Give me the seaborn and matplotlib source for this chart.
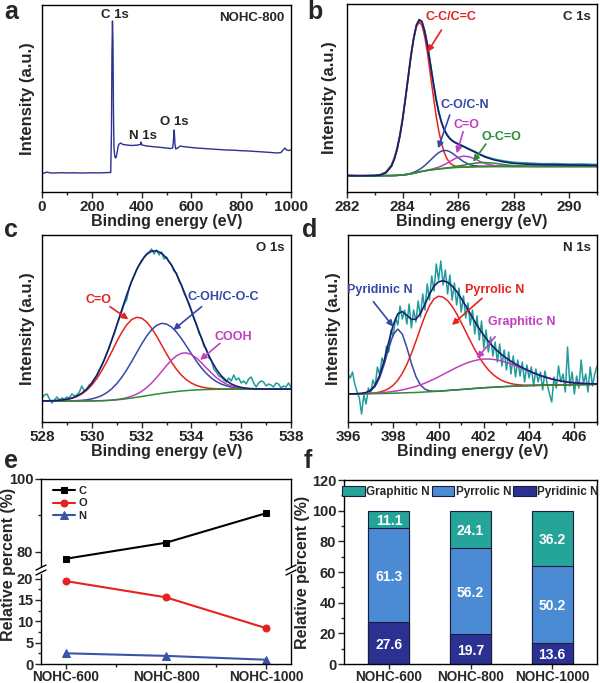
import numpy as np
import seaborn as sns
import matplotlib.pyplot as plt
from matplotlib.ticker import MultipleLocator
from matplotlib.lines import Line2D
from matplotlib.patches import Patch

# ---------------- data ----------------
# (a) survey spectrum of NOHC-800
survey_ev = [0, 10, 20, 30, 50, 80, 100, 130, 160, 200, 230, 260, 276, 279, 281, 283,
             285, 287, 289, 292, 295, 298, 302, 306, 310, 316, 325, 340, 360, 380, 395,
             398, 401, 420, 440, 460, 480, 500, 515, 525, 528, 531, 534, 537, 545, 555,
             565, 580, 600, 620, 650, 680, 710, 740, 770, 800, 830, 860, 890, 920, 945,
             960, 970, 976, 982, 990, 1000]
survey_int = [18.5, 19.0, 20.0, 19.2, 19.0, 19.3, 19.1, 19.2, 19.0, 19.2, 19.1, 19.4, 19.6, 60,
              140, 171, 150, 80, 45, 36, 34, 35, 40, 46, 48, 49, 47.5, 47, 46.5, 46.8, 47.5,
              50, 47, 46, 45.5, 45, 44.5, 44, 43.5, 44, 52, 62, 48, 43, 44, 46, 45.5, 45,
              44.5, 44, 43.5, 43, 42.5, 42, 41.8, 41.3, 41, 40.5, 40, 39.5, 39, 39.5, 42.5,
              44, 42, 41.5, 42]

# (b) C 1s
c1s_ev = [282.0, 282.5, 283.0, 283.2, 283.4, 283.6, 283.7, 283.8, 283.9, 284.0, 284.1,
          284.2, 284.3, 284.4, 284.5, 284.6, 284.7, 284.8, 284.9, 285.0, 285.1, 285.2,
          285.3, 285.4, 285.5, 285.6, 285.7, 285.8, 285.9, 286.0, 286.2, 286.4, 286.6,
          286.8, 287.0, 287.3, 287.6, 288.0, 288.5, 289.0, 289.5, 290.0, 290.5, 291.0]
c1s_raw = [16.8, 16.0, 16.6, 17.4, 20.0, 27.0, 34.0, 43.8, 57.0, 73.5, 93.5, 115.0, 136.5,
           154.0, 167.0, 172.0, 170.0, 160.5, 146.8, 128.8, 110.8, 94.0, 80.5, 70.2, 62.5,
           57.6, 53.8, 51.4, 49.6, 48.3, 45.8, 43.0, 40.5, 37.6, 35.3, 32.8, 31.2, 29.6,
           28.9, 28.2, 28.3, 27.8, 27.9, 27.4]
c1s_fit = [16.3, 16.3, 16.4, 17.0, 19.2, 25.8, 32.5, 42.1, 55.3, 72.1, 92.5, 114.0, 135.7,
           153.7, 166.9, 172.4, 170.4, 160.7, 146.3, 128.2, 110.4, 93.6, 80.0, 69.6, 62.1,
           56.9, 53.3, 50.9, 49.2, 47.9, 45.3, 42.6, 39.9, 37.2, 34.7, 32.1, 30.3, 28.6,
           27.8, 27.4, 27.2, 27.0, 26.8, 26.6]
c1s_cc = [16.3, 16.3, 16.4, 17.0, 19.2, 25.8, 32.5, 42.1, 55.3, 72.0, 92.3, 113.7, 135.2,
          152.8, 165.4, 170.0, 166.6, 155.1, 138.6, 118.0, 97.4, 77.7, 61.5, 48.8, 39.5,
          33.2, 29.2, 27.0, 25.8, 25.3, 25.0, 25.1, 25.3, 25.4, 25.5, 25.6, 25.6, 25.6,
          25.6, 25.6, 25.6, 25.6, 25.6, 25.6]
c1s_co = [16.3, 16.3, 16.3, 16.3, 16.4, 16.4, 16.5, 16.6, 16.8, 17.1, 17.5, 18.0, 18.7,
          19.7, 20.9, 22.4, 24.3, 26.5, 29.0, 31.7, 34.5, 37.1, 39.3, 40.9, 41.5, 41.4,
          40.3, 38.6, 36.5, 34.3, 30.3, 27.5, 26.2, 25.7, 25.6, 25.6, 25.6, 25.6, 25.6,
          25.6, 25.6, 25.6, 25.6, 25.6]
c1s_c_o = [16.3, 16.3, 16.3, 16.3, 16.4, 16.4, 16.5, 16.6, 16.8, 17.0, 17.3, 17.7, 18.2,
           18.8, 19.4, 20.0, 20.7, 21.3, 21.9, 22.5, 23.2, 24.0, 24.9, 26.0, 27.3, 28.8,
           30.4, 32.0, 33.5, 34.7, 35.9, 35.2, 33.1, 30.4, 28.2, 26.4, 25.8, 25.6, 25.6,
           25.6, 25.6, 25.6, 25.6, 25.6]
c1s_oco = [16.3, 16.3, 16.3, 16.3, 16.4, 16.4, 16.5, 16.6, 16.8, 17.0, 17.3, 17.7, 18.2,
           18.8, 19.4, 20.0, 20.6, 21.1, 21.6, 22.0, 22.4, 22.7, 23.1, 23.5, 23.8, 24.2,
           24.5, 24.9, 25.4, 25.9, 26.9, 27.9, 28.8, 29.35, 29.45, 28.8, 27.6, 26.3, 25.7,
           25.6, 25.6, 25.6, 25.6, 25.6]
c1s_bg = [16.3, 16.3, 16.3, 16.3, 16.4, 16.4, 16.5, 16.6, 16.8, 17.0, 17.3, 17.7, 18.2,
          18.8, 19.4, 20.0, 20.6, 21.1, 21.6, 22.0, 22.4, 22.7, 23.0, 23.3, 23.5, 23.8,
          24.0, 24.2, 24.4, 24.6, 24.9, 25.1, 25.3, 25.4, 25.5, 25.6, 25.6, 25.6, 25.6,
          25.6, 25.6, 25.6, 25.6, 25.6]

# (c) O 1s
o1s_ev = np.round(np.linspace(528.0, 538.0, 51), 1)
o1s_fit = [21.06, 21.13, 21.27, 21.5, 21.94, 22.7, 23.9, 25.87, 28.78, 33.02, 38.93, 46.74,
           56.42, 68.25, 81.81, 96.65, 111.9, 126.88, 140.6, 152.3, 161.4, 167.6, 170.8,
           171.2, 168.8, 164.0, 157.0, 147.9, 136.9, 124.4, 111.0, 97.4, 84.0, 71.9, 61.4,
           52.8, 46.15, 41.42, 38.06, 35.9, 34.56, 33.77, 33.35, 33.11, 33.0, 32.9, 32.9,
           32.9, 32.9, 32.9, 32.9]
o1s_co = [21.06, 21.12, 21.25, 21.48, 21.89, 22.6, 23.7, 25.5, 28.1, 31.8, 36.9, 43.4, 51.3,
          60.4, 70.3, 80.3, 89.5, 97.1, 102.4, 104.7, 103.9, 100.1, 93.9, 86.0, 77.1, 68.2,
          59.9, 52.7, 46.8, 42.2, 38.9, 36.6, 35.0, 34.1, 33.5, 33.2, 33.05, 33.0, 32.96,
          32.9, 32.9, 32.9, 32.9, 32.9, 32.9, 32.9, 32.9, 32.9, 32.9, 32.9, 32.9]
o1s_coh = [21.0, 21.0, 21.0, 21.0, 21.05, 21.1, 21.2, 21.37, 21.68, 22.2, 23.1, 24.5, 26.4,
           29.3, 33.2, 38.3, 44.6, 52.1, 60.4, 69.2, 77.9, 85.8, 92.2, 96.6, 98.6, 98.0,
           95.0, 90.0, 83.4, 75.9, 68.2, 60.9, 54.2, 48.6, 44.0, 40.5, 37.9, 36.2, 34.9,
           34.1, 33.58, 33.27, 33.1, 33.0, 32.95, 32.9, 32.9, 32.9, 32.9, 32.9, 32.9]
o1s_cooh = [21.0, 21.0, 21.0, 21.0, 21.0, 21.0, 21.0, 21.0, 21.0, 21.0, 21.1, 21.2, 21.32,
            21.55, 21.91, 22.45, 23.2, 24.28, 25.8, 27.8, 30.6, 34.3, 38.9, 44.4, 50.3, 56.4,
            61.9, 66.2, 68.7, 69.1, 67.5, 64.1, 59.4, 54.2, 49.1, 44.5, 40.8, 38.0, 36.0,
            34.7, 33.9, 33.4, 33.15, 33.0, 32.95, 32.9, 32.9, 32.9, 32.9, 32.9, 32.9]
o1s_bg = [21.0, 21.0, 21.0, 21.0, 21.0, 21.0, 21.0, 21.0, 21.0, 21.0, 21.1, 21.2, 21.3, 21.5,
          21.8, 22.2, 22.7, 23.3, 24.0, 24.7, 25.5, 26.3, 27.1, 27.9, 28.6, 29.3, 29.9, 30.5,
          31.0, 31.4, 31.8, 32.1, 32.3, 32.5, 32.6, 32.7, 32.8, 32.9, 32.9, 32.9, 32.9, 32.9,
          32.9, 32.9, 32.9, 32.9, 32.9, 32.9, 32.9, 32.9, 32.9]
o1s_raw_ev = np.round(np.linspace(528.0, 538.0, 101), 1)
o1s_raw = [24, 27, 28, 23, 19, 22, 25, 22, 24, 23,
           25, 24, 28, 26, 27, 30, 36, 31, 33, 37,
           39, 43, 46, 52, 57, 62, 69, 74, 82, 88,
           96, 103, 110, 118, 122, 134, 141, 146, 152, 157,
           160, 165, 168, 170, 173, 168, 172, 167, 170, 163,
           165, 160, 157, 151, 149, 141, 137, 129, 124, 119,
           112, 103, 98, 89, 85, 76, 73, 64, 62, 53,
           50, 46, 45, 42, 40, 44, 41, 47, 42, 44,
           39, 41, 38, 43, 45, 39, 35, 39, 41, 40,
           36, 38, 37, 35, 39, 38, 34, 36, 35, 39,
           35]

# (d) N 1s
n1s_ev = np.round(np.linspace(396.0, 407.0, 56), 1)
n1s_fit = [28.06, 28.17, 28.32, 28.67, 29.54, 31.85, 36.93, 46.66, 61.55, 80.01, 97.3, 108.21,
           110.45, 106.65, 102.7, 102.75, 108.45, 117.8, 127.75, 135.85, 140.2, 141.25, 139.8,
           136.05, 130.65, 123.7, 116.15, 108.3, 100.45, 93.2, 86.6, 80.7, 75.55, 71.1, 67.15,
           63.8, 60.8, 57.95, 55.5, 53.23, 51.12, 49.1, 47.35, 45.71, 44.33, 43.05, 42.0,
           41.05, 40.3, 39.66, 39.2, 38.81, 38.5, 38.34, 38.18, 38.08]
n1s_pyridinic = [28.0, 28.05, 28.16, 28.4, 29.1, 31.1, 35.65, 44.45, 57.85, 73.85, 87.5, 92.95,
                 87.8, 74.45, 58.7, 45.5, 37.05, 32.8, 31.15, 30.75, 30.86, 31.15, 31.5, 31.85,
                 32.15, 32.5, 32.85, 33.2, 33.55, 33.9, 34.2, 34.5, 34.75, 35.0, 35.25, 35.5,
                 35.7, 35.85, 36.05, 36.2, 36.4, 36.5, 36.65, 36.75, 36.9, 37.0, 37.1, 37.15,
                 37.25, 37.3, 37.4, 37.45, 37.5, 37.6, 37.65, 37.7]
n1s_pyrrolic = [28.0, 28.05, 28.13, 28.23, 28.37, 28.67, 29.1, 29.92, 31.25, 33.45, 36.8, 41.85,
                48.7, 57.55, 68.5, 80.7, 93.75, 106.1, 116.25, 123.2, 125.8, 124.85, 121.4,
                115.65, 108.25, 99.6, 90.45, 81.3, 72.55, 64.7, 57.9, 52.2, 47.65, 44.1, 41.45,
                39.7, 38.4, 37.55, 37.1, 36.83, 36.77, 36.7, 36.75, 36.81, 36.93, 37.0, 37.1,
                37.15, 37.25, 37.3, 37.4, 37.45, 37.5, 37.6, 37.65, 37.7]
n1s_graphitic = [28.06, 28.14, 28.23, 28.34, 28.47, 28.68, 28.88, 29.19, 29.55, 30.01, 30.6,
                 31.31, 32.15, 33.15, 34.3, 35.55, 37.15, 38.9, 40.85, 42.9, 45.15, 47.55, 49.9,
                 52.25, 54.55, 56.6, 58.55, 60.2, 61.45, 62.4, 62.9, 63.0, 62.65, 62.0, 60.95,
                 59.6, 58.1, 56.25, 54.45, 52.6, 50.75, 48.9, 47.25, 45.65, 44.3, 43.05, 42.0,
                 41.05, 40.3, 39.66, 39.2, 38.81, 38.5, 38.34, 38.18, 38.08]
n1s_bg = [28.0, 28.05, 28.1, 28.15, 28.2, 28.3, 28.35, 28.45, 28.55, 28.65, 28.8, 28.95, 29.1,
          29.25, 29.4, 29.5, 29.75, 30.0, 30.25, 30.5, 30.8, 31.15, 31.5, 31.85, 32.15, 32.5,
          32.85, 33.2, 33.55, 33.9, 34.2, 34.5, 34.75, 35.0, 35.25, 35.5, 35.7, 35.85, 36.05,
          36.2, 36.4, 36.5, 36.65, 36.75, 36.9, 37.0, 37.1, 37.15, 37.25, 37.3, 37.4, 37.45,
          37.5, 37.6, 37.65, 37.7]
n1s_raw_ev = np.round(np.linspace(396.0, 407.0, 111), 1)
n1s_raw = [48, 44, 50, 38, 30, 24, 8, 27, 18, 34,
           29, 42, 36, 55, 47, 64, 58, 76, 70, 92,
           86, 104, 97, 116, 103, 112, 98, 118, 94, 112,
           100, 121, 105, 128, 112, 138, 122, 146, 131, 158,
           142, 161, 137, 152, 128, 147, 122, 139, 117, 134,
           110, 126, 104, 119, 97, 112, 88, 106, 82, 101,
           74, 92, 70, 85, 66, 80, 60, 78, 56, 72,
           52, 70, 48, 66, 45, 62, 46, 60, 40, 57,
           44, 55, 36, 53, 40, 50, 32, 51, 38, 28,
           20, 45, 34, 56, 40, 48, 30, 75, 36, 50,
           28, 46, 34, 62, 38, 48, 30, 55, 36, 48,
           56]

# (e) element content
samples = ['NOHC-600', 'NOHC-800', 'NOHC-1000']
carbon_pct = [78.1, 82.5, 90.6]
oxygen_pct = [19.4, 15.6, 8.4]
nitrogen_pct = [2.5, 1.9, 1.0]

# (f) nitrogen species
pyridinic_pct = [27.6, 19.7, 13.6]
pyrrolic_pct = [61.3, 56.2, 50.2]
graphitic_pct = [11.1, 24.1, 36.2]

# ---------------- style ----------------
sns.set_style("ticks")
plt.rcParams['font.family'] = ['Liberation Sans', 'DejaVu Sans']
plt.rcParams['font.weight'] = 'bold'
plt.rcParams['axes.labelweight'] = 'bold'
plt.rcParams['axes.linewidth'] = 1.0
plt.rcParams['axes.edgecolor'] = 'black'

RAW = '#1f9d9a'
NAVY = '#1b1e6e'
RED = '#e5221d'
BLUE = '#3448a8'
MAGENTA = '#c03fbf'
GREEN = '#2b8c34'
SURVEY = '#2d3190'
TEAL_BAR = '#25a49a'
LIGHT_BAR = '#4a8bd4'
DARK_BAR = '#2a3190'

W, H = 600, 683
fig = plt.figure(figsize=(W / 100, H / 100), dpi=100)


def box(left, top, right, bottom):
    return fig.add_axes([left / W, 1 - bottom / H, (right - left) / W, (bottom - top) / H])


def curve(ax, x, y, color, lw=1.1):
    sns.lineplot(x=list(x), y=list(y), ax=ax, color=color, linewidth=lw,
                 estimator=None, sort=False, errorbar=None)


def arrow(ax, tail, tip, color):
    ax.annotate('', xy=tip, xytext=tail,
                arrowprops=dict(arrowstyle='-|>', color=color, lw=1.2,
                                mutation_scale=9, shrinkA=0, shrinkB=0))


def xps_axes(ax, xlim, ylim, major, minor, ylabelpad=5):
    ax.set_xlim(*xlim)
    ax.set_ylim(*ylim)
    ax.xaxis.set_major_locator(MultipleLocator(major))
    ax.xaxis.set_minor_locator(MultipleLocator(minor))
    ax.set_yticks([])
    ax.tick_params(axis='x', which='major', labelsize=11, length=4, width=1, pad=2)
    ax.tick_params(axis='x', which='minor', length=2, width=1)
    ax.set_xlabel('Binding energy (eV)', fontsize=11.5, labelpad=0)
    ax.set_ylabel('Intensity (a.u.)', fontsize=12, labelpad=ylabelpad)


ax_a = box(42, 5, 291, 192)
ax_b = box(347, 4, 597, 192)
ax_c = box(42, 235, 291, 422)
ax_d = box(348, 235, 597, 422)
ax_e1 = box(41, 479, 291, 570)
ax_e2 = box(41, 570, 291, 664)
ax_f = box(344, 480, 597, 664)

# ---------------- (a) survey ----------------
curve(ax_a, survey_ev, survey_int, SURVEY, lw=1.0)
xps_axes(ax_a, (0, 1000), (0, 187), 200, 100)
ax_a.text(293, 177, 'C 1s', fontsize=9.5, ha='center', va='center')
ax_a.text(406, 56, 'N 1s', fontsize=9.5, ha='center', va='center')
ax_a.text(530, 70, 'O 1s', fontsize=9.5, ha='center', va='center')
ax_a.text(0.975, 0.93, 'NOHC-800', transform=ax_a.transAxes, fontsize=9.5, ha='right', va='center')

# ---------------- (b) C 1s ----------------
curve(ax_b, c1s_ev, c1s_raw, RAW, lw=1.3)
for ys, col in [(c1s_cc, RED), (c1s_co, BLUE), (c1s_c_o, MAGENTA), (c1s_oco, GREEN)]:
    curve(ax_b, c1s_ev, ys, col)
curve(ax_b, c1s_ev, c1s_bg, GREEN)
curve(ax_b, c1s_ev, c1s_fit, NAVY, lw=1.2)
xps_axes(ax_b, (282, 291), (0, 188), 2, 1, ylabelpad=7)
ax_b.text(0.975, 0.93, 'C 1s', transform=ax_b.transAxes, fontsize=9.5, ha='right', va='center')
ax_b.text(285.75, 175, 'C-C/C=C', color=RED, fontsize=9, ha='center', va='center')
arrow(ax_b, (285.4, 162), (284.9, 140), RED)
ax_b.text(286.24, 87, 'C-O/C-N', color=BLUE, fontsize=9, ha='center', va='center')
arrow(ax_b, (285.7, 77), (285.28, 43.7), BLUE)
ax_b.text(286.3, 67, 'C=O', color=MAGENTA, fontsize=9, ha='center', va='center')
arrow(ax_b, (286.18, 60.3), (285.95, 38.7), MAGENTA)
ax_b.text(287.56, 55, 'O-C=O', color=GREEN, fontsize=9, ha='center', va='center')
arrow(ax_b, (287.0, 48), (286.54, 30.3), GREEN)

# ---------------- (c) O 1s ----------------
curve(ax_c, o1s_raw_ev, o1s_raw, RAW, lw=1.1)
for ys, col in [(o1s_co, RED), (o1s_coh, BLUE), (o1s_cooh, MAGENTA)]:
    curve(ax_c, o1s_ev, ys, col)
curve(ax_c, o1s_ev, o1s_bg, GREEN)
curve(ax_c, o1s_ev, o1s_fit, NAVY, lw=1.2)
xps_axes(ax_c, (528, 538), (0, 187), 2, 1)
ax_c.text(0.975, 0.93, 'O 1s', transform=ax_c.transAxes, fontsize=9.5, ha='right', va='center')
ax_c.text(530.26, 122, 'C=O', color=RED, fontsize=9, ha='center', va='center')
arrow(ax_c, (530.73, 115.3), (531.47, 102.7), RED)
ax_c.text(535.28, 125.3, 'C-OH/C-O-C', color=BLUE, fontsize=9, ha='center', va='center')
arrow(ax_c, (534.41, 115.3), (533.27, 92), BLUE)
ax_c.text(535.68, 85.3, 'COOH', color=MAGENTA, fontsize=9, ha='center', va='center')
arrow(ax_c, (535.15, 78.7), (534.35, 62), MAGENTA)

# ---------------- (d) N 1s ----------------
curve(ax_d, n1s_raw_ev, n1s_raw, RAW, lw=1.1)
for ys, col in [(n1s_pyridinic, BLUE), (n1s_pyrrolic, RED), (n1s_graphitic, MAGENTA)]:
    curve(ax_d, n1s_ev, ys, col)
curve(ax_d, n1s_ev, n1s_bg, GREEN)
curve(ax_d, n1s_ev, n1s_fit, NAVY, lw=1.2)
xps_axes(ax_d, (396, 407), (0, 187), 2, 1)
ax_d.text(0.975, 0.93, 'N 1s', transform=ax_d.transAxes, fontsize=9.5, ha='right', va='center')
ax_d.text(397.42, 132, 'Pyridinic N', color=BLUE, fontsize=9, ha='center', va='center')
arrow(ax_d, (397.12, 120.3), (398.0, 95.3), BLUE)
ax_d.text(402.5, 132, 'Pyrrolic N', color=RED, fontsize=9, ha='center', va='center')
arrow(ax_d, (401.92, 123.7), (400.59, 97), RED)
ax_d.text(403.69, 100.3, 'Graphitic N', color=MAGENTA, fontsize=9, ha='center', va='center')
arrow(ax_d, (402.5, 85.3), (401.7, 63.7), MAGENTA)

# ---------------- (e) broken-axis element content ----------------
xpos = np.arange(len(samples))
sns.lineplot(x=xpos, y=carbon_pct, ax=ax_e1, color='black', marker='s', markersize=5,
             markeredgecolor='black', linewidth=1.5, label='C', legend=False)
sns.lineplot(x=xpos, y=oxygen_pct, ax=ax_e2, color='#e5221d', marker='o', markersize=5,
             markeredgecolor='#e5221d', linewidth=1.5, label='O', legend=False)
sns.lineplot(x=xpos, y=nitrogen_pct, ax=ax_e2, color='#3a55a8', marker='^', markersize=5.5,
             markeredgecolor='#3a55a8', linewidth=1.5, label='N', legend=False)
for ax in (ax_e1, ax_e2):
    ax.set_xlim(-0.25, 2.25)
    ax.set_ylabel('')
    ax.tick_params(axis='y', which='major', labelsize=10.5, length=4, width=1, pad=1.5)
    ax.tick_params(axis='y', which='minor', length=2, width=1)
ax_e1.set_ylim(75, 100)
ax_e1.set_yticks([80, 100])
ax_e1.yaxis.set_minor_locator(MultipleLocator(10))
ax_e1.spines['bottom'].set_visible(False)
ax_e1.tick_params(axis='x', which='both', bottom=False, labelbottom=False)
ax_e2.set_ylim(0, 22)
ax_e2.set_yticks([0, 5, 10, 15, 20])
ax_e2.yaxis.set_minor_locator(MultipleLocator(2.5))
ax_e2.spines['top'].set_visible(False)
ax_e2.set_xticks(xpos)
ax_e2.set_xticklabels(samples)
ax_e2.xaxis.set_minor_locator(MultipleLocator(0.5))
ax_e2.tick_params(axis='x', which='major', labelsize=9.8, length=3.5, width=1, pad=1)
ax_e2.tick_params(axis='x', which='minor', length=2, width=1)
h1, l1 = ax_e1.get_legend_handles_labels()
h2, l2 = ax_e2.get_legend_handles_labels()
ax_e1.legend(h1 + h2, l1 + l2, loc='upper left', bbox_to_anchor=(0.02, 1.0), frameon=False,
             fontsize=8, handlelength=2.0, handletextpad=0.3, labelspacing=0.25,
             borderaxespad=0.2)

# break marks on both spines
for xb in (41, 291):
    gap = Line2D([xb / W, xb / W], [1 - 572 / H, 1 - 568 / H], color='white', lw=2.5,
                 transform=fig.transFigure)
    fig.add_artist(gap)
    for yc in (567.5, 572.5):
        fig.add_artist(Line2D([(xb - 5) / W, (xb + 5) / W],
                              [1 - (yc + 2.5) / H, 1 - (yc - 2.5) / H],
                              color='black', lw=1.0, transform=fig.transFigure))

fig.text(9 / W, 1 - 564 / H, 'Relative percent (%)', rotation=90, fontsize=11.5,
         ha='center', va='center', fontweight='bold')

# ---------------- (f) stacked nitrogen species ----------------
middle = [a + b for a, b in zip(pyridinic_pct, pyrrolic_pct)]
totals = [m + g for m, g in zip(middle, graphitic_pct)]
bar_kw = dict(ax=ax_f, width=0.5, saturation=1, edgecolor='#1c1c3c', linewidth=0.8,
              errorbar=None)
sns.barplot(x=samples, y=totals, color=TEAL_BAR, **bar_kw)
sns.barplot(x=samples, y=middle, color=LIGHT_BAR, **bar_kw)
sns.barplot(x=samples, y=pyridinic_pct, color=DARK_BAR, **bar_kw)
for i in range(len(samples)):
    bottoms = [0, pyridinic_pct[i], middle[i]]
    for v, b0 in zip([pyridinic_pct[i], pyrrolic_pct[i], graphitic_pct[i]], bottoms):
        ax_f.text(i, b0 + v / 2 - 1.2, f'{v:.1f}', color='white', fontsize=10,
                  ha='center', va='center', fontweight='bold')
ax_f.set_xlim(-0.55, 2.55)
ax_f.set_ylim(0, 120)
ax_f.yaxis.set_major_locator(MultipleLocator(20))
ax_f.yaxis.set_minor_locator(MultipleLocator(10))
ax_f.tick_params(axis='y', which='major', labelsize=10.5, length=4, width=1, pad=1.5)
ax_f.tick_params(axis='y', which='minor', length=2, width=1)
ax_f.tick_params(axis='x', which='major', labelsize=9.8, length=3.5, width=1, pad=1)
ax_f.set_xlabel('')
ax_f.set_ylabel('Relative percent (%)', fontsize=11.5, labelpad=1)
handles = [Patch(facecolor=TEAL_BAR, edgecolor='#1c1c3c', lw=0.8, label='Graphitic N'),
           Patch(facecolor=LIGHT_BAR, edgecolor='#1c1c3c', lw=0.8, label='Pyrrolic N'),
           Patch(facecolor=DARK_BAR, edgecolor='#1c1c3c', lw=0.8, label='Pyridinic N')]
ax_f.legend(handles=handles, loc='center', bbox_to_anchor=(0.5, 0.935), ncol=3,
            frameon=False, fontsize=8.5, handlelength=1.9, handleheight=0.9,
            handletextpad=0.1, columnspacing=0.2, borderaxespad=0, borderpad=0)

# ---------------- panel letters ----------------
for letter, (px, py) in {'a': (4, 19), 'b': (307, 19), 'c': (4, 237), 'd': (302, 237),
                         'e': (4, 468), 'f': (304, 468)}.items():
    fig.text(px / W, 1 - py / H, letter, fontsize=18, fontweight='bold', va='baseline')

fig.savefig('out.png', dpi=100)
